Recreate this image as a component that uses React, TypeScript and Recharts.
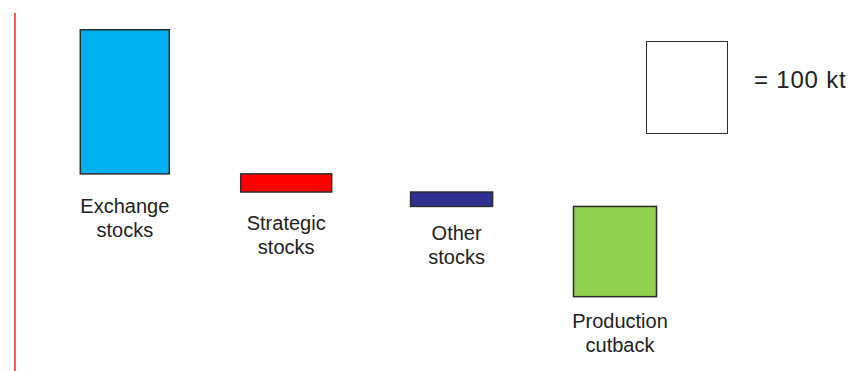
import { BarChart, Bar, XAxis, YAxis } from "recharts"

// stock draw-down shown as a falling waterfall, 1 unit ~ 1 kt of height
const CATEGORIES = ["Exchange stocks", "Strategic stocks", "Other stocks", "Production cutback"]
const START_LEVEL = 382
const DROPS = [155, 19.5, 15.5, 97]
const LEGEND_TEXT = "= 100 kt"

const COLORS = ["#00b0f0", "#ff0000", "#2e3192", "#92d050"]
const BAR_WIDTHS = [89, 91, 82, 83]
const BAR_SHIFT = [0, -2, 0, 0]
const LABEL_DROP = [39, 38, 34, 31]
const LABEL_SHIFT = [0, 0, 5, 5]
const FONT = "'Liberation Sans', Arial, sans-serif"

let level = START_LEVEL
const data = CATEGORIES.map((name, i) => {
  const high = level
  level -= DROPS[i]
  return { name, range: [level, high] }
})

function StepBar(props: any) {
  const { x, y, width, height, payload } = props
  const i = CATEGORIES.indexOf(payload.name)
  const w = BAR_WIDTHS[i]
  const cx = x + width / 2 + BAR_SHIFT[i]
  const lines = payload.name.split(" ")
  const base = y + height + LABEL_DROP[i]
  return (
    <g>
      <rect
        x={cx - w / 2}
        y={y}
        width={w}
        height={height}
        fill={COLORS[i]}
        stroke="#2b2b2b"
        strokeWidth={1.5}
      />
      {lines.map((t: string, k: number) => (
        <text
          key={k}
          x={cx + LABEL_SHIFT[i]}
          y={base + k * 24}
          textAnchor="middle"
          fontFamily={FONT}
          fontSize={20}
          fill="#222"
        >
          {t}
        </text>
      ))}
    </g>
  )
}

export default function App() {
  return (
    <div
      style={{
        position: "fixed",
        left: 0,
        top: 0,
        width: 853,
        height: 371,
        overflow: "hidden",
        background: "#fff",
      }}
    >
      <BarChart
        width={853}
        height={385}
        data={data}
        margin={{ top: 13, right: 0, left: 14, bottom: 0 }}
        barSize={86}
      >
        <XAxis dataKey="name" hide padding={{ left: 27.8, right: 156.6 }} />
        <YAxis
          type="number"
          domain={[0, 400]}
          width={1}
          tick={false}
          tickLine={false}
          axisLine={{ stroke: "#ff5b5b", strokeWidth: 2 }}
        />
        <Bar dataKey="range" shape={<StepBar />} isAnimationActive={false} />
      </BarChart>
      <div
        style={{
          position: "absolute",
          left: 646,
          top: 41,
          width: 80,
          height: 91,
          border: "1.5px solid #2b2b2b",
          background: "#fff",
        }}
      />
      <div
        style={{
          position: "absolute",
          left: 754,
          top: 66,
          fontFamily: FONT,
          fontSize: 24,
          letterSpacing: 0.8,
          lineHeight: "28px",
          color: "#222",
          whiteSpace: "nowrap",
        }}
      >
        {LEGEND_TEXT}
      </div>
    </div>
  )
}
